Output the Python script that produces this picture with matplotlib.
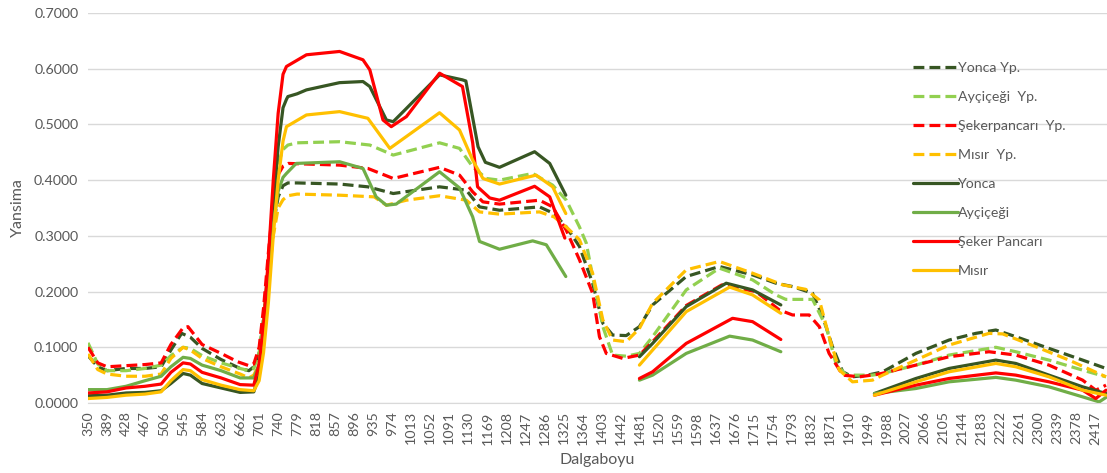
import numpy as np
import matplotlib

matplotlib.use("Agg")
import matplotlib.pyplot as plt
from matplotlib.ticker import FormatStrFormatter

nan = np.nan

# yapay (dashed) series
yonca_yp_wl = [350, 370, 389, 428, 467, 500, 520, 542, 560, 584, 623, 662, 680, 690, 701, 710, 720, 730,
               740, 750, 760, 779, 866, 924, 976, 1071, 1126, 1153, 1194, 1276, 1306, 1331, 1358, 1385,
               1406, 1426, 1454, 1481, 1508, 1577, 1645, 1713, 1761, 1795, 1836, 1857, 1877, 1898, 1918,
               1949, 1980, 2048, 2116, 2171, 2212, 2253, 2321, 2390, 2438]
yonca_yp = [0.085, 0.065, 0.058, 0.062, 0.062, 0.065, 0.095, 0.125, 0.118, 0.098, 0.078, 0.062, 0.058, 0.065,
            0.09, 0.15, 0.24, 0.32, 0.37, 0.39, 0.395, 0.395, 0.393, 0.388, 0.376, 0.388, 0.382, 0.352,
            0.346, 0.352, 0.34, 0.316, 0.281, 0.215, 0.143, 0.122, 0.121, 0.137, 0.176, 0.227, 0.245, 0.23,
            0.215, 0.209, 0.197, 0.155, 0.101, 0.056, 0.047, 0.05, 0.056, 0.089, 0.113, 0.125, 0.131, 0.119,
            0.098, 0.077, 0.062]

aycicegi_yp_wl = [350, 370, 389, 428, 467, 500, 520, 545, 560, 584, 623, 662, 680, 690, 701, 710, 720, 730,
                  740, 750, 760, 779, 866, 928, 976, 1071, 1112, 1139, 1167, 1194, 1262, 1303, 1331, 1358,
                  1372, 1385, 1406, 1426, 1454, 1481, 1508, 1577, 1645, 1713, 1761, 1781, 1836, 1864, 1884,
                  1905, 1959, 1980, 2048, 2116, 2212, 2253, 2321, 2390, 2438]
aycicegi_yp = [0.108, 0.07, 0.058, 0.058, 0.062, 0.068, 0.085, 0.10, 0.098, 0.085, 0.072, 0.062, 0.058, 0.062,
               0.09, 0.15, 0.25, 0.35, 0.43, 0.455, 0.463, 0.467, 0.469, 0.463, 0.445, 0.467, 0.457, 0.424,
               0.403, 0.40, 0.412, 0.391, 0.364, 0.316, 0.287, 0.227, 0.137, 0.086, 0.084, 0.089, 0.119, 0.203,
               0.242, 0.221, 0.194, 0.186, 0.186, 0.137, 0.071, 0.05, 0.05, 0.053, 0.068, 0.086, 0.1, 0.092,
               0.077, 0.059, 0.047]

seker_yp_wl = [350, 370, 389, 428, 467, 500, 520, 545, 555, 584, 623, 657, 680, 690, 701, 710, 720, 730, 740,
               750, 761, 866, 924, 976, 1071, 1112, 1139, 1160, 1194, 1276, 1303, 1331, 1358, 1385, 1399,
               1413, 1447, 1481, 1508, 1577, 1650, 1720, 1768, 1795, 1829, 1850, 1870, 1898, 1932, 1973,
               2048, 2116, 2198, 2253, 2321, 2390, 2417, 2438]
seker_yp = [0.10, 0.072, 0.065, 0.067, 0.069, 0.072, 0.105, 0.135, 0.137, 0.105, 0.089, 0.074, 0.067, 0.07,
            0.10, 0.17, 0.27, 0.36, 0.41, 0.425, 0.43, 0.427, 0.421, 0.403, 0.423, 0.409, 0.379, 0.361, 0.357,
            0.364, 0.352, 0.31, 0.257, 0.197, 0.119, 0.089, 0.08, 0.086, 0.11, 0.175, 0.212, 0.2, 0.167,
            0.158, 0.158, 0.137, 0.089, 0.05, 0.047, 0.052, 0.068, 0.083, 0.092, 0.086, 0.068, 0.041, 0.023,
            0.032]

misir_yp_wl = [350, 370, 389, 428, 467, 500, 520, 545, 560, 584, 623, 662, 680, 690, 701, 710, 720, 730, 740,
               750, 760, 779, 866, 937, 962, 1003, 1071, 1126, 1153, 1194, 1276, 1306, 1331, 1358, 1385,
               1406, 1426, 1454, 1481, 1508, 1577, 1645, 1713, 1775, 1822, 1850, 1870, 1891, 1918, 1959,
               1980, 2048, 2116, 2198, 2226, 2294, 2362, 2438]
misir_yp = [0.088, 0.06, 0.052, 0.048, 0.048, 0.052, 0.08, 0.10, 0.095, 0.08, 0.065, 0.052, 0.045, 0.05,
            0.07, 0.13, 0.22, 0.30, 0.35, 0.365, 0.372, 0.375, 0.373, 0.37, 0.355, 0.364, 0.372, 0.364, 0.343,
            0.339, 0.343, 0.334, 0.316, 0.293, 0.233, 0.149, 0.113, 0.11, 0.134, 0.179, 0.239, 0.254, 0.233,
            0.212, 0.204, 0.185, 0.119, 0.059, 0.038, 0.041, 0.05, 0.077, 0.104, 0.125, 0.124, 0.101, 0.077,
            0.047]

# field (solid) series, nan = water absorption gaps
yonca_wl = [350, 389, 428, 467, 500, 520, 545, 560, 584, 623, 662, 690, 701, 710, 720, 730, 740, 750, 757,
            760, 779, 798, 866, 914, 928, 962, 976, 1000, 1071, 1118, 1125, 1150, 1165, 1194, 1266, 1297,
            1330, 1400, 1481, 1508, 1577, 1659, 1713, 1771, 1870, 1963, 2048, 2116, 2212, 2253, 2321, 2390,
            2438]
yonca = [0.013, 0.014, 0.018, 0.019, 0.022, 0.035, 0.053, 0.05, 0.035, 0.027, 0.019, 0.02, 0.05, 0.11, 0.22,
         0.35, 0.46, 0.53, 0.545, 0.55, 0.555, 0.562, 0.575, 0.577, 0.568, 0.508, 0.505, 0.526, 0.589, 0.58,
         0.578, 0.46, 0.432, 0.423, 0.451, 0.43, 0.373, nan, 0.083, 0.107, 0.173, 0.215, 0.203, 0.176, nan,
         0.017, 0.044, 0.062, 0.077, 0.071, 0.05, 0.029, 0.017]

aycicegi_wl = [350, 389, 428, 467, 500, 520, 545, 560, 584, 623, 662, 690, 701, 710, 720, 730, 740, 750, 757,
               777, 866, 914, 941, 962, 982, 1071, 1112, 1139, 1153, 1194, 1262, 1290, 1330, 1400, 1481,
               1508, 1577, 1666, 1713, 1771, 1870, 1963, 2048, 2116, 2212, 2253, 2321, 2390, 2424, 2438]
aycicegi = [0.024, 0.024, 0.03, 0.04, 0.048, 0.065, 0.082, 0.08, 0.068, 0.058, 0.045, 0.045, 0.07, 0.12,
            0.22, 0.32, 0.38, 0.405, 0.412, 0.43, 0.433, 0.421, 0.37, 0.355, 0.357, 0.415, 0.386, 0.334, 0.29,
            0.276, 0.291, 0.284, 0.227, nan, 0.041, 0.05, 0.089, 0.12, 0.113, 0.092, nan, 0.017, 0.026, 0.038,
            0.046, 0.041, 0.029, 0.011, 0.002, 0.01]

seker_wl = [350, 389, 428, 467, 500, 520, 545, 560, 584, 623, 662, 690, 701, 710, 720, 730, 740, 750, 757,
            798, 866, 914, 928, 955, 972, 1003, 1071, 1118, 1139, 1149, 1174, 1194, 1266, 1297, 1328, 1400,
            1481, 1508, 1577, 1672, 1713, 1771, 1870, 1963, 2048, 2116, 2212, 2253, 2321, 2390, 2417, 2438]
seker = [0.018, 0.02, 0.027, 0.03, 0.034, 0.055, 0.072, 0.07, 0.055, 0.045, 0.033, 0.032, 0.07, 0.14, 0.26,
         0.40, 0.52, 0.59, 0.604, 0.625, 0.631, 0.616, 0.598, 0.508, 0.496, 0.514, 0.592, 0.568, 0.467,
         0.388, 0.368, 0.364, 0.389, 0.37, 0.296, nan, 0.044, 0.056, 0.107, 0.152, 0.146, 0.114, nan, 0.014,
         0.032, 0.044, 0.054, 0.05, 0.038, 0.023, 0.008, 0.023]

misir_wl = [350, 389, 428, 467, 500, 520, 545, 560, 584, 623, 662, 690, 701, 710, 720, 730, 740, 750, 757,
            798, 866, 924, 969, 1071, 1112, 1139, 1160, 1194, 1269, 1303, 1330, 1400, 1481, 1508, 1577, 1666,
            1713, 1771, 1870, 1963, 2048, 2116, 2212, 2253, 2321, 2390, 2438]
misir = [0.008, 0.01, 0.014, 0.016, 0.02, 0.04, 0.06, 0.058, 0.042, 0.032, 0.024, 0.022, 0.04, 0.09, 0.18,
         0.30, 0.40, 0.47, 0.496, 0.517, 0.523, 0.511, 0.457, 0.521, 0.49, 0.436, 0.403, 0.393, 0.409, 0.388,
         0.34, nan, 0.068, 0.095, 0.164, 0.208, 0.194, 0.161, nan, 0.014, 0.038, 0.056, 0.071, 0.065, 0.047,
         0.023, 0.014]

x_ticks = list(range(350, 2418, 39))

series = [
    ("Yonca Yp.", yonca_yp_wl, yonca_yp, "#375623", "--"),
    ("Ayçiçeği  Yp.", aycicegi_yp_wl, aycicegi_yp, "#92D050", "--"),
    ("Şekerpancarı  Yp.", seker_yp_wl, seker_yp, "#FF0000", "--"),
    ("Mısır  Yp.", misir_yp_wl, misir_yp, "#FFC000", "--"),
    ("Yonca", yonca_wl, yonca, "#375623", "-"),
    ("Ayçiçeği", aycicegi_wl, aycicegi, "#70AD47", "-"),
    ("Şeker Pancarı", seker_wl, seker, "#FF0000", "-"),
    ("Mısır", misir_wl, misir, "#FFC000", "-"),
]

plt.rcParams["font.family"] = ["Lato", "DejaVu Sans"]
grey = "#595959"

fig = plt.figure(figsize=(11.07, 4.73), dpi=100)
ax = fig.add_axes([0.0795, 0.148, 0.9205, 0.8245])

for label, wl, vals, color, ls in series:
    if ls == "--":
        ax.plot(wl, vals, color=color, lw=2.3, linestyle=(0, (3.4, 1.6)), label=label)
    else:
        ax.plot(wl, vals, color=color, lw=2.3, solid_joinstyle="round",
                solid_capstyle="round", label=label)

ax.set_xlim(350, 2440)
ax.set_ylim(0, 0.7)
ax.set_yticks(np.arange(0, 0.71, 0.1))
ax.yaxis.set_major_formatter(FormatStrFormatter("%.4f"))
ax.set_xticks(x_ticks)
ax.set_xticklabels([str(t) for t in x_ticks], rotation=90)
ax.tick_params(axis="both", length=0, colors=grey, labelsize=10.3)
ax.tick_params(axis="x", pad=6)
ax.tick_params(axis="y", pad=7)
ax.grid(axis="y", color="#D9D9D9", lw=1)
ax.set_axisbelow(True)
for side in ["top", "right", "left"]:
    ax.spines[side].set_visible(False)
ax.spines["bottom"].set_color("#D9D9D9")

ax.set_xlabel("Dalgaboyu", color=grey, fontsize=11.5, labelpad=6)
ax.set_ylabel("Yansima", color=grey, fontsize=11.5)
ax.yaxis.set_label_coords(-0.062, 0.5)

ax.legend(loc="upper left", bbox_to_anchor=(0.797, 0.907), frameon=False, fontsize=10.2,
          handlelength=3.2, handletextpad=0.0, labelspacing=1.2, labelcolor=grey)

fig.savefig("out.png", dpi=100)
